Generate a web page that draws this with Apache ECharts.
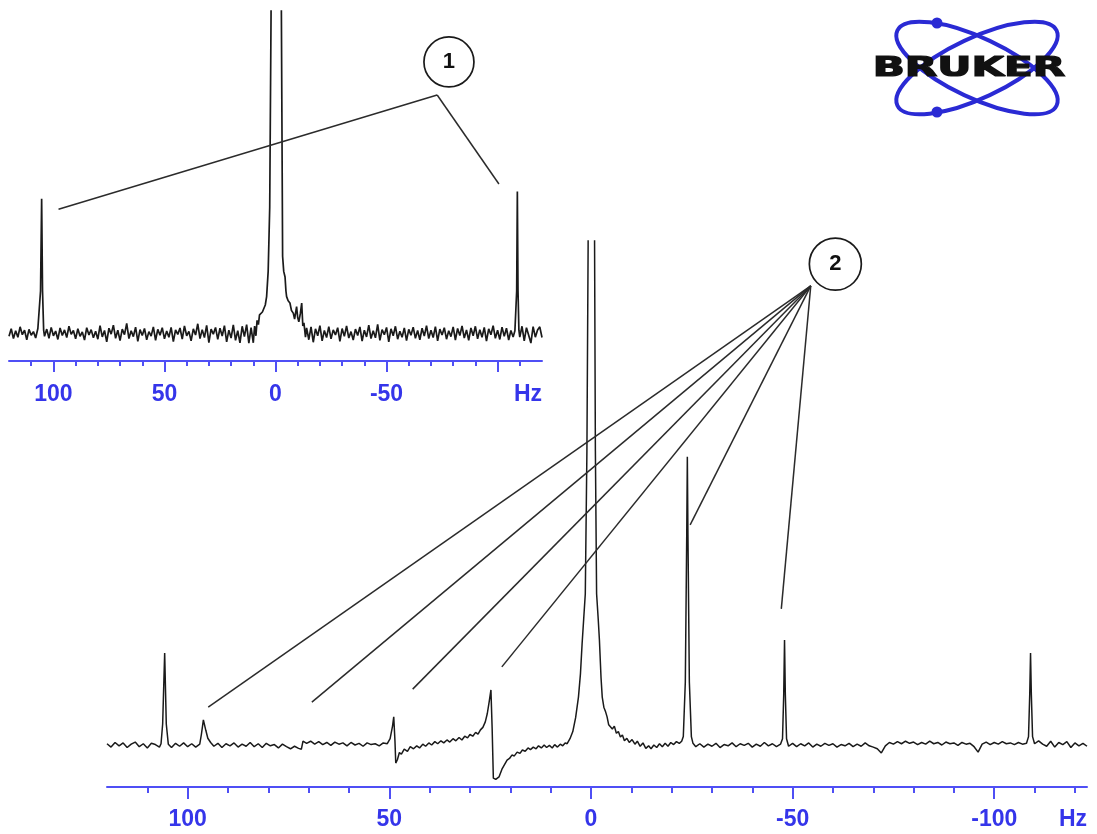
<!DOCTYPE html>
<html>
<head>
<meta charset="utf-8">
<script src="https://cdn.jsdelivr.net/npm/echarts@6/dist/echarts.min.js"></script>
<style>
  html, body { margin: 0; padding: 0; background: #ffffff; }
  #chart { width: 1097px; height: 834px; }
</style>
</head>
<body>
<div id="chart"></div>
<script>
// Upper trace: [frequency offset (Hz), intensity]
const upperSpectrum = [
  [120,-1.2],[119,1.5],[118,-2.0],[117,0.8],[116,-1.5],[115,2.2],[114,-0.6],[113,1.0],[112,-2.4],[111,1.3],
  [110,-0.8],[109,0.5],[108,-1.8],[107,1.6],[106.4,1.0],[105.8,15],[105.3,47.9],[104.9,15],[104.4,1.0],[104,-1.2],
  [103,1.4],[102,-1.9],[101,2.0],[100,-1.0],[99,0.7],[98,-2.3],[97,1.8],[96,-0.9],[95,1.1],[94,-1.6],
  [93,2.4],[92,-0.5],[91,0.9],[90,-2.1],[89,1.5],[88,-1.2],[87,0.4],[86,-2.5],[85,1.9],[84,-0.7],
  [83,1.2],[82,-1.7],[81,0.6],[80,-2.2],[79,2.6],[78,-1.4],[77,0.9],[76,-3.2],[75,1.7],[74,-0.4],
  [73,2.8],[72,-1.9],[71,1.0],[70,-2.7],[69,1.4],[68,-0.6],[67,3.4],[66,-2.0],[65,0.8],[64,-1.3],
  [63,2.1],[62,-3.0],[61,1.2],[60,-0.9],[59,1.6],[58,-2.4],[57,0.5],[56,-1.1],[55,2.2],[54,-2.6],
  [53,1.3],[52,-0.8],[51,1.9],[50,-2.1],[49,0.7],[48,-1.5],[47,2.0],[46,-3.1],[45,1.1],[44,-0.5],
  [43,1.8],[42,-2.2],[41,2.5],[40,-1.0],[39,0.6],[38,-2.8],[37,1.5],[36,-0.7],[35,3.3],[34,-2.0],
  [33,1.2],[32,-1.6],[31,2.7],[30,-3.4],[29,1.4],[28,-0.4],[27,2.0],[26,-2.3],[25,1.7],[24,-1.1],
  [23,2.6],[22,-3.2],[21,1.0],[20,-1.8],[19,2.9],[18,-2.6],[17,0.8],[16,-3.5],[15,2.4],[14,-1.3],
  [13,3.0],[12,-3.6],[11,1.9],[10,-3.5],[9.4,2.5],[8.8,-1.0],[8.3,4.5],[7.7,3.0],[7.2,6.5],[6.5,5.8],
  [5.9,7.5],[5.3,8.2],[4.6,10],[4.0,13],[3.3,22],[2.6,45],[2.0,114],[-0.35,900],[-2.65,114],[-3.2,27.4],
  [-3.7,22],[-4.3,20],[-4.7,15],[-5.0,13],[-5.7,11.5],[-6.5,10.7],[-7.2,8.0],[-8.0,7.1],[-8.6,5.0],[-9.5,9.4],
  [-10.0,5.5],[-10.5,4.0],[-11.2,7.0],[-11.8,10.7],[-12.3,2.5],[-12.8,3.6],[-13.5,-1.5],[-14,1.8],[-15,-2.4],[-16,2.2],
  [-17,-3.3],[-18,1.5],[-19,-1.0],[-20,2.6],[-21,-2.8],[-22,0.9],[-23,-1.6],[-24,2.3],[-25,-2.1],[-26,1.1],
  [-27,-0.7],[-28,1.9],[-29,-3.0],[-30,1.6],[-31,-1.2],[-32,2.5],[-33,-1.8],[-34,0.5],[-35,-2.5],[-36,1.4],
  [-37,-0.9],[-38,2.2],[-39,-2.9],[-40,1.0],[-41,-1.4],[-42,2.8],[-43,-2.0],[-44,0.8],[-45,-1.7],[-46,3.1],
  [-47,-2.6],[-48,1.2],[-49,-0.6],[-50,2.0],[-51,-3.2],[-52,1.5],[-53,-1.0],[-54,2.4],[-55,-2.2],[-56,0.6],
  [-57,-1.5],[-58,1.8],[-59,-2.7],[-60,1.3],[-61,-0.8],[-62,2.1],[-63,-1.9],[-64,0.9],[-65,-2.4],[-66,1.7],
  [-67,-1.1],[-68,2.6],[-69,-2.0],[-70,1.0],[-71,-1.6],[-72,2.3],[-73,-2.8],[-74,1.4],[-75,-0.7],[-76,1.9],
  [-77,-2.2],[-78,0.8],[-79,-1.3],[-80,2.2],[-81,-2.5],[-82,1.6],[-83,-0.9],[-84,2.5],[-85,-1.8],[-86,1.1],
  [-87,-2.6],[-88,1.8],[-89,-1.0],[-90,2.4],[-91,-2.1],[-92,1.2],[-93,-1.5],[-94,2.0],[-95,-2.9],[-96,1.5],
  [-97,-0.6],[-98,2.6],[-99,-1.9],[-100,1.0],[-101,-2.3],[-102,2.1],[-103,-1.2],[-104,1.7],[-105,-2.5],[-106,0.9],
  [-107,-1.4],[-107.8,0.8],[-108.2,1.0],[-108.6,15],[-108.9,50.5],[-109.2,15],[-109.6,1.0],[-110,-1.5],[-111,2.4],[-112,-2.8],
  [-113,1.9],[-114,-0.8],[-115,-3.6],[-116,2.3],[-117,-1.5],[-118,1.1],[-119,2.2],[-120,-1.6]
];

// Lower trace: [frequency offset (Hz), intensity]
const lowerSpectrum = [
  [120,0.3],[119,-0.5],[118,0.6],[117,-0.2],[116,0.5],[115,-0.6],[114,0.2],[113,0.7],[112,-0.4],[111,0.3],
  [110,-0.7],[109,0.4],[108,0.1],[107,-0.5],[106.6,0.3],[106.2,5],[105.7,21.9],[105.3,5],[104.8,0.2],[104,-0.6],
  [103,0.4],[102,-0.3],[101,0.5],[100,-0.4],[99,0.3],[98,-0.5],[97,0.2],[96.6,2.5],[96.1,6.0],[95.5,3.5],
  [95,1.6],[94.3,0.6],[93.5,-0.3],[92.5,0.4],[91.5,-0.6],[90.5,0.3],[89.5,-0.2],[88.5,0.5],[87.5,-0.5],[86.5,0.2],
  [85.5,-0.3],[84.5,0.6],[83.5,-0.4],[82.5,0.3],[81.5,-0.6],[80.5,0.4],[79.5,-0.2],[78.5,0.1],[77.5,-0.7],[76.5,0.2],
  [75.5,-0.4],[74.5,-0.9],[73.5,-0.3],[72.5,-0.8],[71.8,-1.0],[71.4,0.9],[70.5,0.4],[69.5,0.9],[68.5,0.2],[67.5,0.8],
  [66.5,0.1],[65.5,0.6],[64.5,-0.1],[63.5,0.7],[62.5,0.2],[61.5,0.5],[60.5,-0.2],[59.5,0.6],[58.5,0.0],[57.5,0.4],
  [56.5,-0.3],[55.5,0.5],[54.5,0.1],[53.5,0.3],[52.5,-0.2],[51.5,0.5],[50.5,0.3],[49.8,1.5],[49.2,4.5],[48.9,6.7],
  [48.6,1.0],[48.4,-4.3],[48.0,-3.5],[47.5,-1.8],[47,-2.2],[46.3,-1.0],[45.5,-1.5],[44.8,-0.4],[44,-0.9],[43.2,-0.2],
  [42.5,-0.7],[41.7,0.2],[41,-0.3],[40.2,0.5],[39.5,0.0],[38.7,0.8],[38,0.3],[37.2,1.0],[36.5,0.5],[35.7,1.2],
  [35,0.7],[34.2,1.5],[33.5,1.0],[32.7,1.8],[32,1.2],[31.3,2.1],[30.6,1.7],[30,2.5],[29.3,2.1],[28.6,3.0],
  [28,2.6],[27.4,3.6],[26.8,4.2],[26.2,5.5],[25.7,7.5],[25.2,10.5],[24.8,13.1],[24.5,4],[24.2,-7.9],[23.6,-8.2],
  [22.8,-7.6],[22,-5.6],[21.4,-4.6],[20.8,-3.6],[20.2,-3.2],[19.6,-2.4],[19,-2.6],[18.3,-1.7],[17.6,-2.0],[17,-1.2],
  [16.3,-1.5],[15.6,-0.7],[15,-1.1],[14.3,-0.5],[13.6,-0.9],[13,-0.2],[12.3,-0.7],[11.6,0.0],[11,-0.6],[10.3,-0.1],
  [9.6,-0.7],[9,0.1],[8.3,-0.5],[7.6,0.2],[7,-0.2],[6.4,0.5],[5.9,0.3],[5.2,1.5],[4.5,3.2],[3.8,6.5],
  [3.1,11.4],[2.6,17],[2.2,24],[1.8,30],[1.4,36],[1.0,70],[0.7,119],[0,600],[-0.9,119],[-1.1,70],
  [-1.4,36],[-1.8,30],[-2.1,25],[-2.5,16],[-2.8,11.4],[-3.2,9],[-3.6,8],[-4.0,6.7],[-4.4,4.8],[-4.8,5.2],
  [-5.3,3.8],[-5.8,4.5],[-6.3,2.8],[-6.8,3.2],[-7.3,1.9],[-7.8,2.4],[-8.3,1.0],[-8.9,1.6],[-9.5,0.6],[-10.2,1.3],
  [-10.9,0.2],[-11.5,0.9],[-12.2,-0.3],[-12.9,0.5],[-13.6,-0.8],[-14.3,-0.2],[-14.9,-0.9],[-15.6,0.0],[-16.3,-0.6],[-17,0.3],
  [-17.7,-0.4],[-18.4,0.4],[-19.1,-0.3],[-19.8,0.6],[-20.5,0.1],[-21.2,0.8],[-21.9,0.4],[-22.5,0.9],[-22.9,2],[-23.4,15],
  [-23.75,50],[-23.9,68.6],[-24.05,50],[-24.4,15],[-24.9,2],[-25.3,0.4],[-26,-0.4],[-27,0.3],[-28,-0.5],[-29,0.2],
  [-30,-0.3],[-31,0.4],[-32,-0.6],[-33,0.1],[-34,-0.2],[-35,0.5],[-36,-0.4],[-37,0.3],[-38,-0.1],[-39,0.4],
  [-40,-0.5],[-41,0.2],[-42,-0.3],[-43,0.6],[-44,-0.2],[-45,0.3],[-46,-0.4],[-47,0.2],[-47.5,1.5],[-47.8,12],
  [-48.0,25],[-48.2,12],[-48.5,1.5],[-49,-0.3],[-50,0.4],[-51,-0.4],[-52,0.3],[-53,-0.2],[-54,0.5],[-55,-0.5],
  [-56,0.2],[-57,-0.3],[-58,0.4],[-59,-0.1],[-60,0.3],[-61,-0.5],[-62,0.1],[-63,-0.2],[-64,0.4],[-65,-0.4],
  [-66,0.2],[-67,-0.3],[-68,0.5],[-69,-0.2],[-70,-0.5],[-71,-0.9],[-72,-1.9],[-73,-0.2],[-74,0.6],[-75,0.2],
  [-76,0.8],[-77,0.3],[-78,0.9],[-79,0.4],[-80,0.7],[-81,0.1],[-82,0.6],[-83,0.2],[-84,0.9],[-85,0.3],
  [-86,0.6],[-87,0.0],[-88,0.7],[-89,0.3],[-90,0.5],[-91,-0.1],[-92,0.6],[-93,0.2],[-94,0.4],[-95,-0.4],
  [-96,-1.7],[-97,0.2],[-98,0.7],[-99,0.1],[-100,0.6],[-101,0.2],[-102,0.8],[-103,0.3],[-104,0.5],[-105,0.1],
  [-106,0.6],[-107,0.2],[-108,0.4],[-108.5,2],[-108.8,12],[-109.0,21.9],[-109.2,12],[-109.5,2],[-110,0.3],[-111,1.0],
  [-112,0.2],[-113,-0.3],[-114,0.9],[-115,-0.5],[-116,0.6],[-117,0.1],[-118,0.8],[-119,-0.6],[-120,0.5],[-121,-0.2],
  [-122,0.4],[-123,-0.3]
];

// Axis ticks and labels (Hz)
const upperMajorTicks = [100, 50, 0, -50, -100];
const upperTickLabels = [100, 50, 0, -50];
const upperMinorTicks = [110, 90, 80, 70, 60, 40, 30, 20, 10, -10, -20, -30, -40, -60, -70, -80, -90, -110];
const lowerMajorTicks = [100, 50, 0, -50, -100];
const lowerTickLabels = [100, 50, 0, -50, -100];
const lowerMinorTicks = [110, 90, 80, 70, 60, 40, 30, 20, 10, -10, -20, -30, -40, -60, -70, -80, -90, -110, -120];
const unitName = 'Hz';

// Numbered call-outs: circle, hub where the leaders meet, and leader targets (data coordinates)
const calloutOne = { text: '1', center: [-78.1, 96.8], hub: [-72.8, 85.0],
  ends: [[97.7, 44.2], [-100.6, 53.2]] };
const calloutTwo = { text: '2', center: [-60.6, 114.5], hub: [-54.5, 109.3],
  ends: [[94.9, 9.0], [69.2, 10.2], [44.2, 13.3], [22.1, 18.6], [-24.6, 52.4], [-47.2, 32.4]] };

const AXIS_BLUE = '#4f4ff5';
const LABEL_BLUE = '#3535ea';
const TRACE = '#1a1a1a';
const LOGO_BLUE = '#2a2ad4';

function hzAxes(gridIndex, min, max, majors, labels, minors, majorLen, minorLen, margin) {
  const labelFont = { color: LABEL_BLUE, fontSize: 23, fontWeight: 'bold', fontFamily: '"Liberation Sans", Arial, sans-serif' };
  return [
    {
      type: 'value', gridIndex, min, max, inverse: true, position: 'bottom',
      axisLine: { show: true, onZero: false, lineStyle: { color: AXIS_BLUE, width: 2 } },
      axisTick: { show: true, customValues: majors, length: majorLen, lineStyle: { color: AXIS_BLUE, width: 2 } },
      axisLabel: Object.assign({ show: true, customValues: labels, margin }, labelFont),
      splitLine: { show: false },
      // the axis runs right-to-left, so its start is the right-hand end
      name: unitName, nameLocation: 'start', nameGap: 0, nameMoveOverlap: false,
      nameTextStyle: Object.assign({ align: 'right', verticalAlign: 'top', padding: [margin, 0, 0, 0] }, labelFont)
    },
    {
      type: 'value', gridIndex, min, max, inverse: true, position: 'bottom',
      axisLine: { show: false, onZero: false },
      axisTick: { show: true, customValues: minors, length: minorLen, lineStyle: { color: AXIS_BLUE, width: 2 } },
      axisLabel: { show: false },
      splitLine: { show: false }
    }
  ];
}

function traceSeries(xAxisIndex, yAxisIndex, data, width) {
  return {
    type: 'line', xAxisIndex, yAxisIndex, data,
    symbol: 'none', showSymbol: false, clip: true, silent: true,
    lineStyle: { color: TRACE, width }
  };
}

function calloutSeries(xAxisIndex, yAxisIndex, c, size) {
  return {
    type: 'line', xAxisIndex, yAxisIndex, data: [c.hub],
    symbol: 'none', lineStyle: { opacity: 0 }, clip: false, silent: true, z: 5,
    markLine: {
      silent: true, symbol: ['none', 'none'], animation: false,
      label: { show: false },
      lineStyle: { color: '#2b2b2b', width: 1.5, type: 'solid' },
      emphasis: { disabled: true },
      data: c.ends.map(e => [{ coord: c.hub }, { coord: e }])
    },
    markPoint: {
      silent: true, symbol: 'circle', symbolSize: size, animation: false,
      itemStyle: { color: '#ffffff', borderColor: '#1a1a1a', borderWidth: 1.7 },
      label: { show: true, position: 'inside', formatter: c.text, fontSize: 22, fontWeight: 'bold',
        color: '#111111', fontFamily: '"Liberation Sans", Arial, sans-serif' },
      emphasis: { disabled: true },
      data: [{ coord: c.center }]
    }
  };
}

const chart = echarts.init(document.getElementById('chart'), null, { renderer: 'canvas' });

chart.setOption({
  animation: false,
  backgroundColor: '#ffffff',
  grid: [
    { left: 9, top: 11, width: 533, height: 350, outerBoundsMode: 'none', containLabel: false },
    { left: 107, top: 241, width: 980, height: 546, outerBoundsMode: 'none', containLabel: false }
  ],
  xAxis: [
    ...hzAxes(0, -120, 120, upperMajorTicks, upperTickLabels, upperMinorTicks, 11, 5, 22),
    ...hzAxes(1, -123, 120, lowerMajorTicks, lowerTickLabels, lowerMinorTicks, 12, 6, 21)
  ],
  yAxis: [
    { type: 'value', gridIndex: 0, min: -10, max: 115, show: false },
    { type: 'value', gridIndex: 1, min: -10, max: 120, show: false }
  ],
  series: [
    traceSeries(0, 0, upperSpectrum, 1.7),
    traceSeries(2, 1, lowerSpectrum, 1.5),
    calloutSeries(0, 0, calloutOne, 50),
    calloutSeries(2, 1, calloutTwo, 52)
  ],
  graphic: [
    // logo: two crossed orbits with electrons, lettering on top
    { type: 'group', x: 977, y: 68, rotation: 0.44, silent: true,
      children: [{ type: 'ellipse', shape: { cx: 0, cy: 0, rx: 88, ry: 30 },
        style: { fill: 'none', stroke: LOGO_BLUE, lineWidth: 4 } }] },
    { type: 'group', x: 977, y: 68, rotation: -0.44, silent: true,
      children: [{ type: 'ellipse', shape: { cx: 0, cy: 0, rx: 88, ry: 30 },
        style: { fill: 'none', stroke: LOGO_BLUE, lineWidth: 4 } }] },
    { type: 'circle', silent: true, shape: { cx: 937, cy: 23, r: 5.5 }, style: { fill: LOGO_BLUE } },
    { type: 'circle', silent: true, shape: { cx: 937, cy: 112, r: 5.5 }, style: { fill: LOGO_BLUE } },
    { type: 'text', silent: true, x: 969, y: 69, scaleX: 1.62,
      style: { text: 'BRUKER', font: 'bold 26px "DejaVu Sans"', fill: '#111111',
        stroke: '#111111', lineWidth: 1.2, textAlign: 'center', textVerticalAlign: 'middle' } }
  ]
});
</script>
</body>
</html>
